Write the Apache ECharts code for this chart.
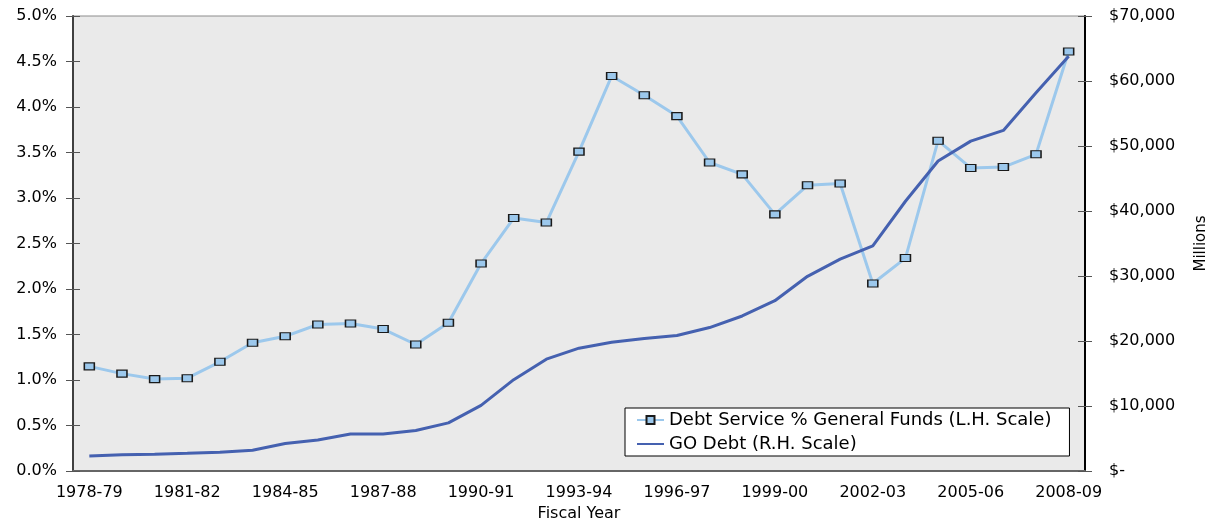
<!DOCTYPE html>
<html>
<head>
<meta charset="utf-8">
<script src="https://cdn.jsdelivr.net/npm/echarts@6/dist/echarts.min.js"></script>
<style>
html,body{margin:0;padding:0;background:#fff;}
#chart{width:1217px;height:521px;}
</style>
</head>
<body>
<div id="chart"></div>
<script>
var years = ['1978-79','1979-80','1980-81','1981-82','1982-83','1983-84','1984-85','1985-86','1986-87','1987-88',
  '1988-89','1989-90','1990-91','1991-92','1992-93','1993-94','1994-95','1995-96','1996-97','1997-98',
  '1998-99','1999-00','2000-01','2001-02','2002-03','2003-04','2004-05','2005-06','2006-07','2007-08','2008-09'];
var debtServicePct = [1.15,1.07,1.01,1.02,1.20,1.41,1.48,1.61,1.62,1.56,1.39,1.63,2.28,2.78,2.73,3.51,4.34,4.13,3.90,3.39,
  3.26,2.82,3.14,3.16,2.06,2.34,3.63,3.33,3.34,3.48,4.61];
var goDebt = [2300,2500,2570,2720,2880,3190,4220,4770,5700,5700,6220,7400,10100,14050,17200,18900,19800,20400,20850,22070,
  23850,26200,29950,32600,34650,41500,47700,50750,52400,58200,63800];
var seriesNames = ['Debt Service % General Funds (L.H. Scale)', 'GO Debt (R.H. Scale)'];

var FONT = 'DejaVu Sans';
var chart = echarts.init(document.getElementById('chart'));
chart.setOption({
  animation: false,
  textStyle: {fontFamily: FONT},
  grid: {left: 73, right: 132, top: 16, bottom: 50, outerBoundsMode: 'none', containLabel: false,
    show: true, backgroundColor: '#EAEAEA', borderColor: '#8C8C8C', borderWidth: 1},
  legend: {
    data: [
      {name: seriesNames[0]},
      {name: seriesNames[1], itemStyle: {opacity: 0}}
    ],
    orient: 'vertical',
    left: 625, top: 408,
    backgroundColor: '#fff', borderColor: '#000', borderWidth: 1,
    padding: [3, 18, 3, 11],
    itemWidth: 27, itemHeight: 10, itemGap: 6,
    textStyle: {fontFamily: FONT, fontSize: 18, color: '#000', lineHeight: 18}
  },
  xAxis: [{
    type: 'category', data: years, boundaryGap: true, position: 'bottom',
    name: 'Fiscal Year', nameLocation: 'middle', nameGap: 31,
    nameTextStyle: {fontFamily: FONT, fontSize: 16, color: '#000'},
    axisLine: {lineStyle: {color: '#666', width: 2}},
    axisTick: {interval: 2, length: 5, lineStyle: {color: '#333'}},
    axisLabel: {interval: 2, margin: 14, fontFamily: FONT, fontSize: 16, color: '#000'},
    splitLine: {show: false}
  }, {
    type: 'category', data: years, boundaryGap: true, position: 'bottom',
    axisLine: {show: false},
    axisTick: {interval: 2, length: 5, inside: true, lineStyle: {color: '#333'}},
    axisLabel: {show: false}, splitLine: {show: false}
  }],
  yAxis: [{
    type: 'value', position: 'left', min: 0, max: 5, interval: 0.5,
    axisLine: {show: true, lineStyle: {color: '#404040', width: 2}},
    axisTick: {show: true, length: 7, lineStyle: {color: '#555'}},
    axisLabel: {margin: 16, fontFamily: FONT, fontSize: 16, color: '#000', formatter: function (v) { return v.toFixed(1) + '%'; }},
    splitLine: {show: false}
  }, {
    type: 'value', position: 'right', min: 0, max: 70000, interval: 10000,
    name: 'Millions', nameLocation: 'middle', nameRotate: 90, nameGap: 109,
    nameTextStyle: {fontFamily: FONT, fontSize: 15, color: '#000'},
    axisLine: {show: true, lineStyle: {color: '#000', width: 2}},
    axisTick: {show: true, length: 7, lineStyle: {color: '#555'}},
    axisLabel: {margin: 24, fontFamily: FONT, fontSize: 16, color: '#000',
      formatter: function (v) { return v === 0 ? '$-' : '$' + v.toLocaleString('en-US'); }},
    splitLine: {show: false}
  }, {
    type: 'value', position: 'left', min: 0, max: 5, interval: 0.5,
    axisLine: {show: false}, axisLabel: {show: false}, splitLine: {show: false},
    axisTick: {show: true, inside: true, length: 7, lineStyle: {color: '#555'}}
  }, {
    type: 'value', position: 'right', min: 0, max: 70000, interval: 10000,
    axisLine: {show: false}, axisLabel: {show: false}, splitLine: {show: false},
    axisTick: {show: true, inside: true, length: 7, lineStyle: {color: '#555'}}
  }],
  series: [{
    name: seriesNames[0], type: 'line', xAxisIndex: 0, yAxisIndex: 0, data: debtServicePct,
    color: '#9CC8EC',
    lineStyle: {color: '#9CC8EC', width: 3},
    symbol: 'rect', symbolSize: [10, 7], showAllSymbol: true,
    itemStyle: {color: '#9CC8EC', borderColor: '#1a1a1a', borderWidth: 1.3},
    z: 2
  }, {
    name: seriesNames[1], type: 'line', xAxisIndex: 0, yAxisIndex: 1, data: goDebt,
    color: '#4561B0',
    lineStyle: {color: '#4561B0', width: 3},
    symbol: 'none',
    z: 3
  }]
});
</script>
</body>
</html>
